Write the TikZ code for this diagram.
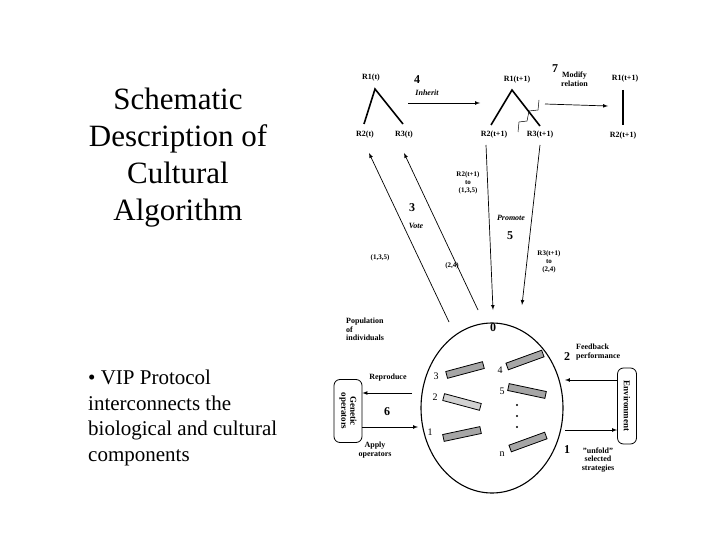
\documentclass[tikz,border=0pt]{standalone}
\usepackage{fontspec}
\setmainfont{Liberation Serif}
\usetikzlibrary{shapes.geometric}
\begin{document}
\begin{tikzpicture}[x=1pt,y=-1pt,
  lab/.style={font=\fontsize{8}{8.5}\selectfont\bfseries,inner sep=0pt,align=center},
  num/.style={font=\fontsize{12}{12}\selectfont\bfseries,inner sep=0pt},
  leg/.style={line width=1.6pt},
  arr/.style={-latex,line width=0.7pt},
  bar/.style={draw,line width=0.8pt,fill=gray!70,minimum width=38pt,minimum height=7pt,inner sep=0pt},
  box/.style={draw,rounded corners=6pt,line width=0.8pt,inner sep=0pt},
  boxt/.style={rotate=-90,inner sep=0pt,font=\fontsize{9}{9}\selectfont\bfseries,align=center}]
\useasboundingbox (0,0) rectangle (720,540);
% left text
\node[align=center,font=\fontsize{31}{37}\selectfont] (title) at (178,158) {Schematic\\Description of\\Cultural\\Algorithm};
\node[align=left,anchor=north west,font=\fontsize{21}{25.5}\selectfont,inner sep=0pt] (bul) at (88,370) {• VIP Protocol\\interconnects the\\biological and cultural\\components};
% ellipse
\node[draw,ellipse,line width=1.1pt,minimum width=142pt,minimum height=170pt,inner sep=0pt] (pop) at (492,408) {};
\node[num] (n0) at (493,328) {0};
\node[bar,rotate=15] (b3) at (465,370) {};
\node[bar,rotate=-15,fill=gray!35] (b2) at (462,402) {};
\node[bar,rotate=12] (b1) at (462,434) {};
\node[bar,rotate=20] (b4) at (525,360) {};
\node[bar,rotate=-12] (b5) at (527,391) {};
\node[bar,rotate=20] (bn) at (528,442) {};
\node[lab,font=\fontsize{10}{10}\selectfont] (l3) at (436,376) {3};
\node[lab,font=\fontsize{10}{10}\selectfont] (l2) at (435,397) {2};
\node[lab,font=\fontsize{10}{10}\selectfont] (l1) at (430,432) {1};
\node[lab,font=\fontsize{10}{10}\selectfont] (l4) at (500,370) {4};
\node[lab,font=\fontsize{10}{10}\selectfont] (l5) at (502,391) {5};
\node[lab,font=\fontsize{10}{10}\selectfont] (ln) at (502,454) {n};
\foreach \y in {405,416,427} \fill (517,\y) circle (1.2pt);
\node[lab,anchor=north west,align=left] (popl) at (346,318) {Population\\of\\individuals};
% genetic operators / environment
\node[box,minimum width=28pt,minimum height=63pt] (gen) at (348,411) {};
\node[boxt] (gent) at (gen) {Genetic\\operators};
\node[box,minimum width=19pt,minimum height=76pt] (env) at (627,406) {};
\node[boxt] (envt) at (env) {Environment};
\coordinate (rs) at (412,393); \coordinate (re) at (gen.east |- rs);
\draw[arr] (rs) -- (re);
\node[lab] (rep) at (388,378) {Reproduce};
\coordinate (as) at (gen.east |- 0,427); \coordinate (ae) at (418,427);
\draw[arr] (as) -- (ae);
\node[num] (n6) at (387,412) {6};
\node[lab] (app) at (375,450) {Apply\\operators};
\coordinate (fs) at (env.west |- 0,380); \coordinate (fe) at (565,380);
\draw[arr] (fs) -- (fe);
\node[num] (n2) at (567,357) {2};
\node[lab,anchor=west,align=left] (fb) at (576,352) {Feedback\\performance};
\coordinate (us) at (565,430); \coordinate (ue) at (env.west |- 0,430);
\draw[arr] (us) -- (ue);
\node[num] (n1) at (567,450) {1};
\node[lab] (unf) at (598,460) {"unfold"\\selected\\strategies};
% top belief structures
\node[lab] (r1t) at (371,78) {R1(t)};
\node[lab] (r2t) at (365,135) {R2(t)};
\node[lab] (r3t) at (404,135) {R3(t)};
\draw[leg] (364,124) -- (375,89) -- (403,124);
\node[num] (n4) at (417,80) {4};
\node[lab,font=\fontsize{8}{8}\selectfont\bfseries\itshape] (inh) at (427,93) {Inherit};
\coordinate (ia) at (408,103); \coordinate (ib) at (480,103);
\draw[arr] (ia) -- (ib);
\node[lab] (r1n) at (517,80) {R1(t+1)};
\node[lab] (r2n) at (494,135) {R2(t+1)};
\node[lab] (r3n) at (540,135) {R3(t+1)};
\draw[leg] (491,125) -- (512,90) -- (540,126);
\draw[line width=0.5pt] (518,132) -- (519,122) -- (527,121) -- (529,111) -- (538,110) -- (539,100);
\node[num] (n7) at (555,69) {7};
\node[lab,anchor=west] (mod) at (561,79) {Modify\\relation};
\coordinate (ma) at (545,104); \coordinate (mb) at (608,106);
\draw[arr] (ma) -- (mb);
\node[lab] (r1r) at (625,79) {R1(t+1)};
\node[lab] (r2r) at (623,136) {R2(t+1)};
\draw[leg] (623,90) -- (623,125);
% vote
\coordinate (v1s) at (449,322); \coordinate (v1e) at (369,153);
\coordinate (v2s) at (478,310); \coordinate (v2e) at (404,153);
\draw[arr] (v1s) -- (v1e);
\draw[arr] (v2s) -- (v2e);
\node[num] (n3) at (412,208) {3};
\node[lab,font=\fontsize{8}{8}\selectfont\bfseries\itshape] (vote) at (416,226) {Vote};
\node[lab,font=\fontsize{7}{7}\selectfont\bfseries] (v135) at (380,258) {(1,3,5)};
\node[lab,font=\fontsize{7}{7}\selectfont\bfseries] (v24) at (452,266) {(2,4)};
% promote
\coordinate (p1s) at (486,145); \coordinate (p1e) at (493,310);
\coordinate (p2s) at (540,145); \coordinate (p2e) at (522,305);
\draw[arr] (p1s) -- (p1e);
\draw[arr] (p2s) -- (p2e);
\node[lab,font=\fontsize{7}{8}\selectfont\bfseries] (r2to) at (468,183) {R2(t+1)\\to\\(1,3,5)};
\node[lab,font=\fontsize{8}{8}\selectfont\bfseries\itshape] (prom) at (511,218) {Promote};
\node[num] (n5) at (510,236) {5};
\node[lab,font=\fontsize{7}{8}\selectfont\bfseries] (r3to) at (549,262) {R3(t+1)\\to\\(2,4)};
\end{tikzpicture}
\end{document}
